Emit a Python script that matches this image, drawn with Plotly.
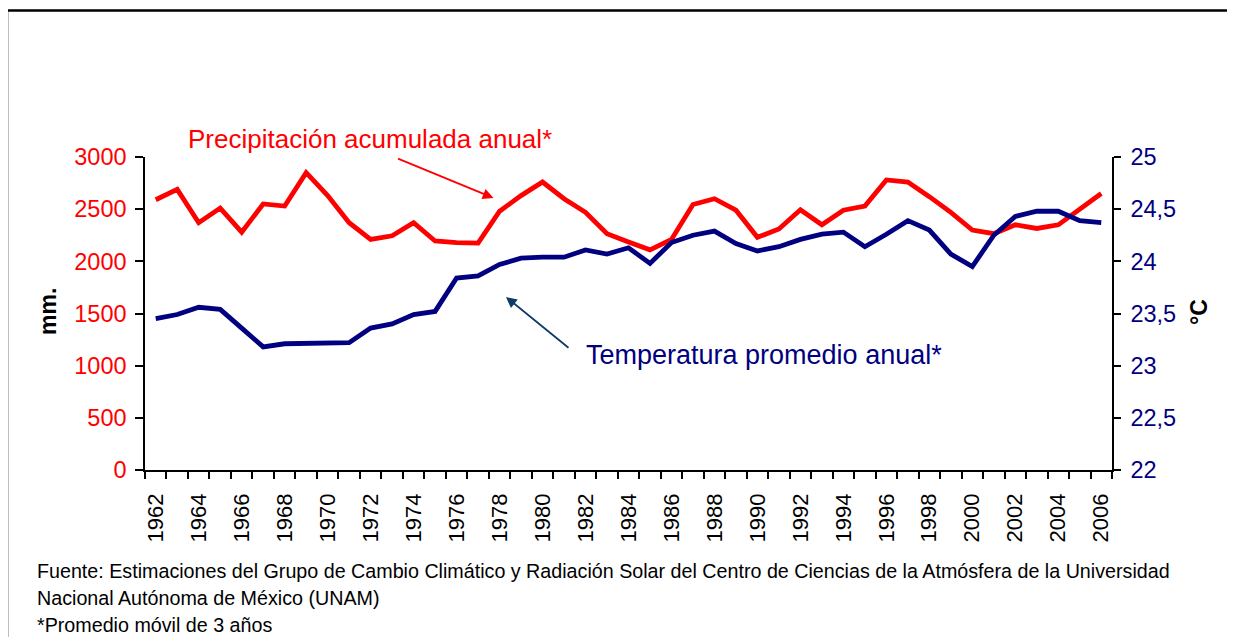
import plotly.graph_objects as go

# annual series, 3-year moving average
years = list(range(1962, 2007))
precip_mm = [2590, 2690, 2370, 2510, 2280, 2550, 2530, 2850, 2630, 2370,
             2210, 2245, 2370, 2195, 2180, 2175, 2480, 2630, 2760, 2600,
             2470, 2265, 2185, 2110, 2210, 2545, 2600, 2490, 2230, 2310,
             2495, 2350, 2490, 2530, 2780, 2760, 2620, 2470, 2300, 2265,
             2350, 2315, 2350, 2500, 2650]
temp_c = [23.45, 23.49, 23.56, 23.54, 23.36, 23.18, 23.21, 23.21, 23.22, 23.22,
          23.36, 23.40, 23.49, 23.52, 23.84, 23.86, 23.97, 24.03, 24.04, 24.04,
          24.11, 24.07, 24.13, 23.98, 24.18, 24.25, 24.29, 24.17, 24.10, 24.14,
          24.21, 24.26, 24.28, 24.14, 24.26, 24.39, 24.30, 24.07, 23.95, 24.25,
          24.43, 24.48, 24.48, 24.39, 24.37]

label_years = years[::2]
boundaries = [y - 0.5 for y in years] + [years[-1] + 0.5]

RED = "#ff0000"
NAVY = "#000080"
FONT = "Arial, Liberation Sans, sans-serif"

fig = go.Figure()
fig.add_trace(go.Scatter(x=years, y=precip_mm, mode="lines", yaxis="y",
                         line=dict(color=RED, width=4.8), showlegend=False))
fig.add_trace(go.Scatter(x=years, y=temp_c, mode="lines", yaxis="y2",
                         line=dict(color=NAVY, width=4.8), showlegend=False))

xr = [years[0] - 0.5, years[-1] + 0.5]
# page body adds an 8px margin, so the figure is 8px smaller on each side
fig.update_layout(
    width=1227, height=629,
    margin=dict(l=137, r=123, t=149, b=167),
    paper_bgcolor="white", plot_bgcolor="white",
    separators=",.",
    font=dict(family=FONT, color="black"),
    xaxis=dict(range=xr, tickmode="array", tickvals=label_years,
               ticktext=[str(y) for y in label_years], tickangle=-90,
               ticks="", showgrid=False, zeroline=False,
               showline=True, linecolor="black", linewidth=1.5,
               tickfont=dict(size=22, color="black"), ticklabelstandoff=13,
               minor=dict(tickmode="array", tickvals=boundaries, ticks="outside",
                          ticklen=7, tickwidth=1.5, tickcolor="black", showgrid=False)),
    xaxis3=dict(range=xr, overlaying="x", anchor="y", tickmode="array",
                tickvals=boundaries, ticks="inside", ticklen=8, tickwidth=1.5,
                tickcolor="black", showticklabels=False, showgrid=False,
                zeroline=False, showline=False),
    yaxis=dict(range=[0, 3000], dtick=500, ticks="outside", ticklen=8,
               tickwidth=1.5, tickcolor="black", showline=True, linecolor="black",
               linewidth=1.5, showgrid=False, zeroline=False,
               tickfont=dict(size=23.5, color=RED), ticklabelstandoff=4),
    yaxis2=dict(range=[22, 25], dtick=0.5, overlaying="y", side="right",
                ticks="outside", ticklen=7, tickwidth=1.5, tickcolor="black",
                showline=True, linecolor="black", linewidth=1.5, showgrid=False,
                zeroline=False, tickfont=dict(size=23.5, color=NAVY),
                ticklabelstandoff=5),
    yaxis3=dict(range=[0, 3000], dtick=500, overlaying="y", anchor="x",
                ticks="inside", ticklen=5, tickwidth=1.5, tickcolor="black",
                showticklabels=False, showgrid=False, zeroline=False, showline=False),
    yaxis4=dict(range=[22, 25], dtick=0.5, overlaying="y", side="right", anchor="x",
                ticks="inside", ticklen=8, tickwidth=1.5, tickcolor="black",
                showticklabels=False, showgrid=False, zeroline=False, showline=False),
)

# axis titles
fig.add_annotation(text="<b>mm.</b>", xref="paper", yref="paper", x=-0.1003, y=0.505,
                   xanchor="center", yanchor="middle", textangle=-90,
                   showarrow=False, font=dict(size=23, color="black"))
fig.add_annotation(text="<b>°C</b>", xref="paper", yref="paper", x=1.090, y=0.505,
                   xanchor="center", yanchor="middle", textangle=-90,
                   showarrow=False, font=dict(size=23, color="black"))

# series labels with arrows
fig.add_annotation(text="Precipitación acumulada anual*", xref="paper", yref="paper",
                   x=0.2322, y=1.0575, xanchor="center", yanchor="middle",
                   showarrow=False, font=dict(size=26, color=RED))
fig.add_annotation(text="", xref="paper", yref="paper", x=0.3604, y=0.869,
                   ax=-97, ay=-40, showarrow=True, arrowhead=2, arrowsize=1.2,
                   arrowwidth=1.8, arrowcolor=RED, standoff=0)
fig.add_annotation(text="Temperatura promedio anual*", xref="paper", yref="paper",
                   x=0.640, y=0.3674, xanchor="center", yanchor="middle",
                   showarrow=False, font=dict(size=27, color=NAVY))
fig.add_annotation(text="", xref="paper", yref="paper", x=0.3733, y=0.5527,
                   ax=64, ay=52, showarrow=True, arrowhead=2, arrowsize=1.2,
                   arrowwidth=1.8, arrowcolor="#0d3a66", standoff=0)

# footer notes
notes = ["Fuente: Estimaciones del Grupo de Cambio Climático y Radiación Solar del Centro de Ciencias de la Atmósfera de la Universidad",
         "Nacional Autónoma de México (UNAM)",
         "*Promedio móvil de 3 años"]
for txt, ypix in zip(notes, [570.5, 597.5, 624.5]):
    fig.add_annotation(text=txt, xref="paper", yref="paper", x=(35 - 145) / 967,
                       y=(470 - ypix) / 313, xanchor="left", yanchor="middle",
                       showarrow=False, font=dict(size=19.7, color="black"))

# outer frame
fig.add_shape(type="rect", xref="paper", yref="paper", x0=(7 - 145) / 967,
              x1=1.14, y0=-0.65, y1=(470 - 10.5) / 313,
              line=dict(color="black", width=2.5), fillcolor="rgba(0,0,0,0)")

fig.write_html("out.html")
